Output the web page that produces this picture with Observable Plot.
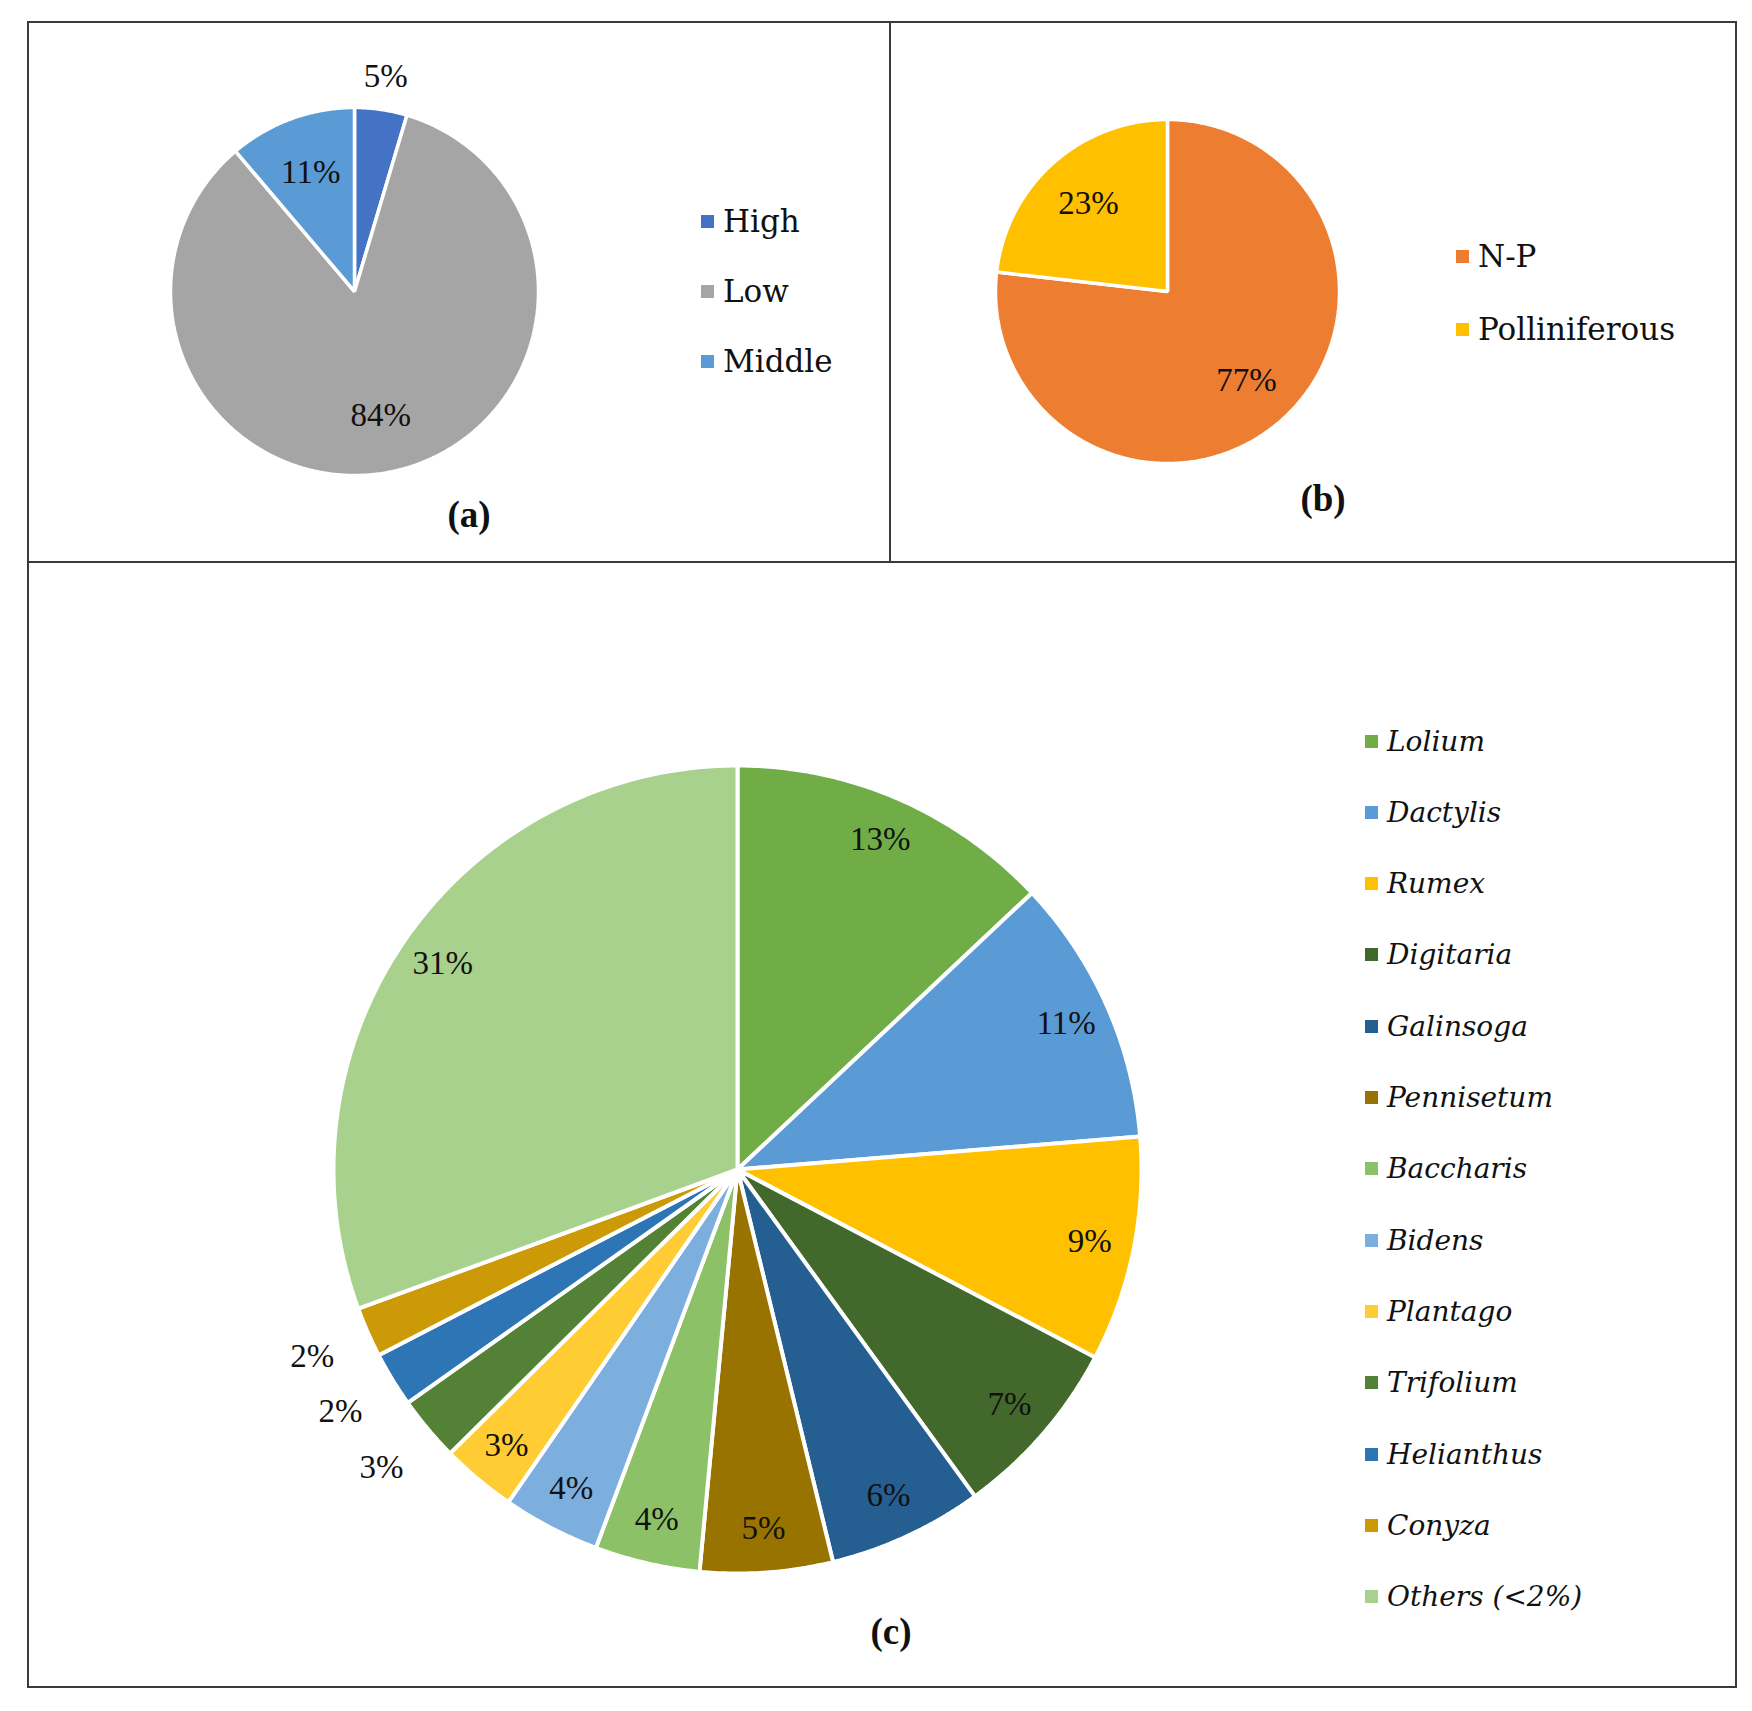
<!DOCTYPE html>
<html><head><meta charset="utf-8">
<script src="https://cdn.jsdelivr.net/npm/d3@7"></script>
<script src="https://cdn.jsdelivr.net/npm/@observablehq/plot@0.6"></script>
<style>
html,body{margin:0;padding:0;background:#fff;}
body{width:1752px;height:1711px;position:relative;overflow:hidden;font-family:"Liberation Serif",serif;}
.line{position:absolute;background:#3a3a3a;}
.chart{position:absolute;}
.leg{position:absolute;font-family:"DejaVu Serif",serif;color:#111;}
.item{position:absolute;left:0;height:40px;display:flex;align-items:center;white-space:nowrap;}
.sw{width:13px;height:13px;margin-right:9px;flex:none;}
.plab{position:absolute;font-family:"Liberation Serif",serif;font-weight:bold;font-size:37px;transform:translate(-50%,-50%);color:#111;}
</style></head><body>
<script>
// ---- data ----
const aCategories = ["High", "Low", "Middle"];
const aValues = [4.6, 84.2, 11.2];
const aColors = ["#4472C4", "#A5A5A5", "#5B9BD5"];

const bCategories = ["N-P", "Polliniferous"];
const bValues = [76.8, 23.2];
const bColors = ["#ED7D31", "#FFC000"];

const cCategories = ["Lolium", "Dactylis", "Rumex", "Digitaria", "Galinsoga", "Pennisetum", "Baccharis", "Bidens", "Plantago", "Trifolium", "Helianthus", "Conyza", "Others (<2%)"];
const cValues = [13.0, 10.7, 9.0, 7.3, 6.2, 5.3, 4.2, 3.9, 3.0, 2.6, 2.2, 2.0, 30.6];
const cColors = ["#70AD47", "#5B9BD5", "#FFC000", "#43682B", "#255E91", "#997300", "#8CC168", "#7CAFDD", "#FFCD33", "#538135", "#2E75B6", "#CC9A06", "#A9D18E"];

// ---- helpers ----
function pieParts(cats, vals) {
  const arcs = d3.pie().sort(null).value(d => d.v)(cats.map((c, i) => ({c, v: vals[i]})));
  const pts = [];
  arcs.forEach(a => {
    pts.push({name: a.data.c, x: 0, y: 0});
    const n = Math.max(2, Math.ceil((a.endAngle - a.startAngle) / (Math.PI / 360)));
    for (let k = 0; k <= n; k++) {
      const t = a.startAngle + (a.endAngle - a.startAngle) * k / n;
      pts.push({name: a.data.c, x: Math.sin(t), y: Math.cos(t)});
    }
  });
  return {arcs, pts};
}

function pieChart({cats, vals, colors, cx, cy, r, size, ringIn, ringOut, outsideBelow, fontSize, strokeWidth}) {
  const {arcs, pts} = pieParts(cats, vals);
  const labels = arcs.map(a => {
    const m = (a.startAngle + a.endAngle) / 2;
    const rr = a.data.v < outsideBelow ? ringOut : ringIn;
    return {x: rr * Math.sin(m), y: rr * Math.cos(m), t: Math.round(a.data.v) + "%"};
  });
  const k = size / 2 / r;
  const svg = Plot.plot({
    width: size, height: size, margin: 0,
    x: {domain: [-k, k], axis: null},
    y: {domain: [-k, k], axis: null},
    color: {domain: cats, range: colors},
    style: {background: "transparent", overflow: "visible"},
    marks: [
      Plot.line(pts, {x: "x", y: "y", z: "name", fill: "name", stroke: "white", strokeWidth, curve: "linear-closed", strokeLinejoin: "miter"}),
      Plot.text(labels, {x: "x", y: "y", text: "t", fontSize, fill: "#111", fontFamily: "Liberation Serif"})
    ]
  });
  const wrap = document.createElement("div");
  wrap.className = "chart";
  wrap.style.left = (cx - size / 2) + "px";
  wrap.style.top = (cy - size / 2) + "px";
  wrap.appendChild(svg);
  document.body.appendChild(wrap);
}

function legend({cats, colors, left, top, step, fontSize, italic}) {
  const d = document.createElement("div");
  d.className = "leg";
  d.style.left = left + "px";
  d.style.top = top + "px";
  d.style.fontSize = fontSize + "px";
  if (italic) d.style.fontStyle = "italic";
  cats.forEach((c, i) => {
    const it = document.createElement("div");
    it.className = "item";
    it.style.top = (i * step - 20) + "px";
    const sw = document.createElement("span");
    sw.className = "sw";
    sw.style.background = colors[i];
    const tx = document.createElement("span");
    tx.textContent = c;
    it.appendChild(sw); it.appendChild(tx);
    d.appendChild(it);
  });
  document.body.appendChild(d);
}

function hline(x, y, w) { const e = document.createElement("div"); e.className = "line"; Object.assign(e.style, {left: x + "px", top: y + "px", width: w + "px", height: "2px"}); document.body.appendChild(e); }
function vline(x, y, h) { const e = document.createElement("div"); e.className = "line"; Object.assign(e.style, {left: x + "px", top: y + "px", width: "2px", height: h + "px"}); document.body.appendChild(e); }
function panelLabel(t, x, y) { const e = document.createElement("div"); e.className = "plab"; e.textContent = t; e.style.left = x + "px"; e.style.top = y + "px"; document.body.appendChild(e); }

// ---- frame ----
hline(27, 21, 1710); hline(27, 1686, 1710); hline(27, 561, 1710);
vline(27, 21, 1667); vline(1735, 21, 1667); vline(889, 21, 541);

// ---- panel (a) ----
pieChart({cats: aCategories, vals: aValues, colors: aColors, cx: 354, cy: 291, r: 184, size: 480, ringIn: 0.69, ringOut: 1.18, outsideBelow: 5, fontSize: 33, strokeWidth: 3.5});
legend({cats: aCategories, colors: aColors, left: 701, top: 221, step: 70, fontSize: 31});
panelLabel("(a)", 469, 514);

// ---- panel (b) ----
pieChart({cats: bCategories, vals: bValues, colors: bColors, cx: 1167, cy: 291, r: 172, size: 480, ringIn: 0.69, ringOut: 1.18, outsideBelow: 3, fontSize: 33, strokeWidth: 3.5});
legend({cats: bCategories, colors: bColors, left: 1456, top: 256, step: 73, fontSize: 31});
panelLabel("(b)", 1323, 498);

// ---- panel (c) ----
pieChart({cats: cCategories, vals: cValues, colors: cColors, cx: 737, cy: 1169, r: 404, size: 1100, ringIn: 0.89, ringOut: 1.15, outsideBelow: 2.8, fontSize: 33, strokeWidth: 4});
legend({cats: cCategories, colors: cColors, left: 1365, top: 741, step: 71.3, fontSize: 28, italic: true});
panelLabel("(c)", 891, 1631);
</script>
</body></html>
